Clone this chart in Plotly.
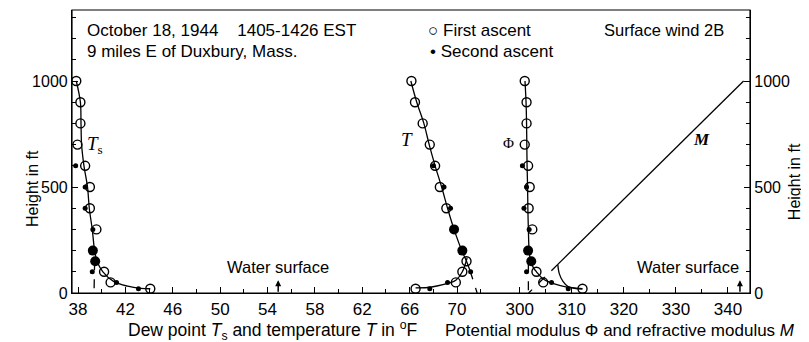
import plotly.graph_objects as go

# dew point T_s (deg F) vs height (ft)
ts_first_h = [1000, 900, 800, 700, 600, 500, 400, 300, 100, 50, 20]
ts_first = [37.85, 38.2, 38.2, 37.95, 38.6, 39.0, 39.0, 39.55, 40.2, 40.75, 44.1]
ts_second_h = [600, 500, 400, 300, 100, 50, 20]
ts_second = [37.8, 38.6, 38.6, 39.25, 39.2, 41.25, 43.1]
ts_both_h = [200, 150]
ts_both = [39.25, 39.45]
ts_curve_h = [1000, 900, 800, 700, 600, 500, 400, 300, 200, 150, 100, 55, 32, 22, 20]
ts_curve = [37.85, 38.2, 38.25, 38.3, 38.5, 38.8, 38.95, 39.2, 39.4, 39.6, 40.1, 41.0, 42.2, 43.3, 44.1]
ts_dash_h = [150, 0]
ts_dash = [39.4, 39.35]

# temperature T (deg F)
t_first_h = [1000, 900, 800, 700, 600, 500, 400, 150, 100, 50, 20]
t_first = [66.15, 66.45, 67.1, 67.7, 68.15, 68.55, 69.1, 70.8, 70.45, 69.9, 66.5]
t_second_h = [600, 500, 400, 100, 50, 20]
t_second = [68.0, 68.9, 69.45, 71.15, 69.2, 67.7]
t_both_h = [300, 200]
t_both = [69.75, 70.45]
t_curve_h = [1000, 900, 800, 700, 600, 500, 400, 300, 200, 150, 105]
t_curve = [66.1, 66.6, 67.2, 67.65, 68.15, 68.7, 69.2, 69.75, 70.4, 70.8, 71.1]
t_low_h = [165, 100, 60, 45, 33, 26, 24]
t_low = [70.85, 70.45, 69.9, 69.2, 68.3, 67.5, 66.5]
t_dash_h = [105, 0]
t_dash = [71.1, 71.7]

# potential modulus phi
phi_first_h = [1000, 900, 800, 700, 600, 500, 400, 300, 100, 50, 20]
phi_first = [300.95, 301.3, 301.3, 300.95, 301.6, 301.9, 301.7, 302.4, 303.2, 304.5, 312.05]
phi_second_h = [600, 500, 400, 300, 100, 50, 20]
phi_second = [300.5, 301.3, 300.8, 301.8, 301.3, 306.1, 309.3]
phi_both_h = [200, 150]
phi_both = [301.6, 302.2]
phi_curve_h = [1000, 900, 800, 700, 600, 500, 400, 300, 200, 150, 120, 100, 70, 50, 35, 25, 20]
phi_curve = [301.0, 301.2, 301.3, 301.35, 301.4, 301.5, 301.55, 301.65, 301.8, 302.1, 302.6, 303.2, 304.3, 305.8, 307.8, 310.0, 312.05]
phi_dash_h = [140, 0]
phi_dash = [301.65, 301.65]

# refractive modulus M
m_line_h = [1000, 135]
m_line = [343.0, 307.3]
m_low_h = [135, 90, 55, 32, 22, 19]
m_low = [307.3, 307.6, 308.3, 309.2, 310.5, 312.0]
m_dash_h = [135, 0]
m_dash = [307.3, 301.7]

water_t = 54.9
water_m = 342.3

fig = go.Figure()
black = "black"

def curve(x, y, xa, ya="y", dash="solid", spline=True):
    fig.add_trace(go.Scatter(x=x, y=y, xaxis=xa, yaxis=ya, mode="lines",
                             line=dict(color=black, width=1.3, dash=dash,
                                       shape="spline" if spline else "linear"),
                             showlegend=False, hoverinfo="skip"))

def pts(x, y, xa, kind):
    if kind == "first":
        m = dict(symbol="circle-open", size=9, color=black, line=dict(width=1.4, color=black))
        name = "First ascent"
    elif kind == "second":
        m = dict(symbol="circle", size=5, color=black)
        name = "Second ascent"
    else:
        m = dict(symbol="circle", size=10, color=black)
        name = "both"
    fig.add_trace(go.Scatter(x=x, y=y, xaxis=xa, yaxis="y", mode="markers", marker=m,
                             name=name, showlegend=False))

curve(ts_curve, ts_curve_h, "x")
curve(ts_dash, ts_dash_h, "x", dash="dash", spline=False)
curve(t_curve, t_curve_h, "x")
curve(t_low, t_low_h, "x")
curve(t_dash, t_dash_h, "x", dash="dash", spline=False)
curve(phi_curve, phi_curve_h, "x2")
curve(phi_dash, phi_dash_h, "x2", dash="dash", spline=False)
curve(m_line, m_line_h, "x2", ya="y2", spline=False)
curve(m_low, m_low_h, "x2", ya="y2")
curve(m_dash, m_dash_h, "x2", ya="y2", dash="dash", spline=False)

pts(ts_first, ts_first_h, "x", "first")
pts(ts_second, ts_second_h, "x", "second")
pts(ts_both, ts_both_h, "x", "both")
pts(t_first, t_first_h, "x", "first")
pts(t_second, t_second_h, "x", "second")
pts(t_both, t_both_h, "x", "both")
pts(phi_first, phi_first_h, "x2", "first")
pts(phi_second, phi_second_h, "x2", "second")
pts(phi_both, phi_both_h, "x2", "both")

font = "Liberation Sans"
serif = "Liberation Serif"
ax_common = dict(showline=True, linecolor=black, linewidth=1.2, ticks="inside",
                 ticklen=6, tickcolor=black, showgrid=False, zeroline=False,
                 tickfont=dict(family=font, size=17, color=black))
y_common = dict(range=[0, 1335], tickvals=[0, 500, 1000], showline=True, linecolor=black,
                linewidth=1.2, ticks="inside", ticklen=6, tickcolor=black, showgrid=False,
                zeroline=False, tickfont=dict(family=font, size=16, color=black),
                minor=dict(dtick=100, ticks="inside", ticklen=4, tickcolor=black))
fig.update_layout(
    xaxis=dict(domain=[0, 0.625], range=[37.49, 73.27], anchor="y", tick0=38, dtick=4,
               minor=dict(dtick=2, ticks="inside", ticklen=4, tickcolor=black), **ax_common),
    xaxis2=dict(domain=[0.625, 1], range=[295.38, 344.23], anchor="y", tick0=300, dtick=10,
                minor=dict(dtick=5, ticks="inside", ticklen=4, tickcolor=black), **ax_common),
    yaxis=dict(anchor="x", **y_common),
    yaxis2=dict(overlaying="y", side="right", anchor="x2", **y_common),
    width=809, height=342,
    # page body has an 8px margin, so the frame is placed 8px up/left
    margin=dict(l=64, r=67, t=2, b=57),
    paper_bgcolor="white", plot_bgcolor="white",
    font=dict(family=font, size=15, color=black),
    showlegend=False,
)
fig.add_shape(type="rect", xref="paper", yref="paper", x0=0, x1=1, y0=0, y1=1,
              line=dict(color=black, width=1.2), layer="above")

def note(text, x, y, xref="paper", yref="paper", size=17, fam=font, xanchor="left", angle=0):
    fig.add_annotation(text=text, x=x, y=y, xref=xref, yref=yref, showarrow=False,
                       xanchor=xanchor, yanchor="middle", textangle=angle,
                       font=dict(family=fam, size=size, color=black))

note("October 18, 1944    1405-1426 EST", 0.019, 0.929)
note("9 miles E of Duxbury, Mass.", 0.019, 0.852)
note("Surface wind 2B", 0.781, 0.929, size=16.5)
note("\u25cb First ascent", 0.522, 0.929, size=17)
note("\u2022 Second ascent", 0.525, 0.852, size=17)
note("Water surface", 54.92, 123, xref="x", yref="y", xanchor="center", size=16.5)
note("Water surface", 332.4, 123, xref="x2", yref="y", xanchor="center", size=16.5)
note("Dew point <i>T</i><sub>s</sub> and temperature <i>T</i> in <sup>o</sup>F", 0.295, -0.131, xanchor="center", size=17.5)
note("Potential modulus \u03a6 and refractive modulus <i>M</i>", 0.808, -0.131, xanchor="center", size=17)
note("Height in ft", -0.059, 0.371, xanchor="center", angle=-90, size=16)
note("Height in ft", 1.065, 0.392, xanchor="center", angle=-90, size=16)
note("<i>T</i><sub>s</sub>", 39.45, 700, xref="x", yref="y", xanchor="center", size=19, fam=serif)
note("<i>T</i>", 65.74, 722, xref="x", yref="y", xanchor="center", size=19, fam=serif)
note("\u03a6", 297.9, 709, xref="x2", yref="y", xanchor="center", size=15, fam=serif)
note("<i><b>M</b></i>", 334.9, 722, xref="x2", yref="y", xanchor="center", size=17, fam=serif)

for xv, xa in [(water_t, "x"), (water_m, "x2")]:
    fig.add_annotation(x=xv, y=60, xref=xa, yref="y", ax=0, ay=13, text="", showarrow=True,
                       arrowhead=2, arrowsize=0.8, arrowwidth=1.5, arrowcolor=black)

fig.write_html("out.html")
